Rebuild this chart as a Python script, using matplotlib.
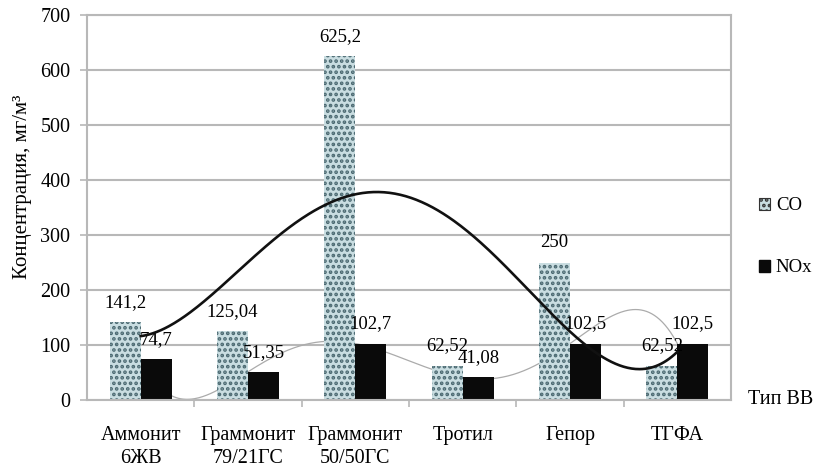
import numpy as np
import matplotlib
matplotlib.use("Agg")
import matplotlib.pyplot as plt
from matplotlib.patches import Patch

categories = ["Аммонит\n6ЖВ", "Граммонит\n79/21ГС", "Граммонит\n50/50ГС", "Тротил", "Гепор", "ТГФА"]
co_values = [141.2, 125.04, 625.2, 62.52, 250.0, 62.52]
nox_values = [74.7, 51.35, 102.7, 41.08, 102.5, 102.5]
co_labels = ["141,2", "125,04", "625,2", "62,52", "250", "62,52"]
nox_labels = ["74,7", "51,35", "102,7", "41,08", "102,5", "102,5"]
y_ticks = [0, 100, 200, 300, 400, 500, 600, 700]

plt.rcParams['font.family'] = ['Liberation Serif', 'DejaVu Serif']
plt.rcParams['hatch.linewidth'] = 1.8

fig = plt.figure(figsize=(8.3, 4.68), dpi=100)
ax = fig.add_axes([87/830, 68/468, 644/830, 385/468])

x = np.arange(1, len(categories) + 1)
w = 0.29
grid_c = '#b8b8b8'
co_face = '#c9dde1'
co_hatch = '#4a6870'

ax.bar(x - w/2, co_values, width=w, color=co_face, edgecolor=co_hatch, linewidth=0, hatch='...', zorder=2)
ax.bar(x + w/2, nox_values, width=w, color='#0a0a0a', linewidth=0, zorder=2)

# polynomial trendlines (as in Excel)
xs = np.linspace(1, 6, 400)
p_co = np.polyfit(x, co_values, 4)
p_nox = np.polyfit(x, nox_values, 5)
ax.plot(xs, np.polyval(p_nox, xs), color='#ababab', lw=0.9, zorder=1.5)
ax.plot(xs, np.polyval(p_co, xs), color='#111111', lw=1.9, zorder=4)

for xi, v, s in zip(x, co_values, co_labels):
    ax.annotate(s, (xi - w/2, v), xytext=(0, 8), textcoords='offset points',
                ha='center', va='bottom', fontsize=13.5, zorder=3)
for xi, v, s in zip(x, nox_values, nox_labels):
    ax.annotate(s, (xi + w/2, v), xytext=(0, 8), textcoords='offset points',
                ha='center', va='bottom', fontsize=13.5, zorder=3)

ax.set_xlim(0.5, 6.5)
ax.set_ylim(0, 700)
ax.set_yticks(y_ticks)
ax.set_yticklabels([str(t) for t in y_ticks], fontsize=14.5)
ax.yaxis.grid(True, color=grid_c, lw=1.5, zorder=0)
ax.set_axisbelow(True)
ax.tick_params(axis='y', length=5, color=grid_c, width=1.2, pad=7)

ax.set_xticks(x)
ax.set_xticklabels(categories, fontsize=14.5, linespacing=1.25)
ax.set_xticks(np.arange(1.5, 6.5, 1.0), minor=True)
ax.tick_params(axis='x', which='major', length=0, pad=19)
ax.tick_params(axis='x', which='minor', length=5, color=grid_c, width=1.2)

for sp in ax.spines.values():
    sp.set_color(grid_c)
    sp.set_linewidth(1.5)

fig.text(22/830, (468-187)/468, "Концентрация, мг/м³", rotation=90,
         ha='center', va='center', fontsize=15)
fig.text(748/830, (468-400)/468, "Тип ВВ", ha='left', va='center', fontsize=14.5)

handles = [Patch(facecolor=co_face, edgecolor='#333333', hatch='...', linewidth=0.8, label='CO'),
           Patch(facecolor='#0a0a0a', edgecolor='#0a0a0a', label='NOx')]
fig.legend(handles=handles, loc='center left', bbox_to_anchor=(759/830, (468-237)/468),
           frameon=False, fontsize=13.5, handlelength=0.6, handleheight=0.6,
           handletextpad=0.3, labelspacing=2.4, borderpad=0, borderaxespad=0)

fig.savefig("out.png", dpi=100)
